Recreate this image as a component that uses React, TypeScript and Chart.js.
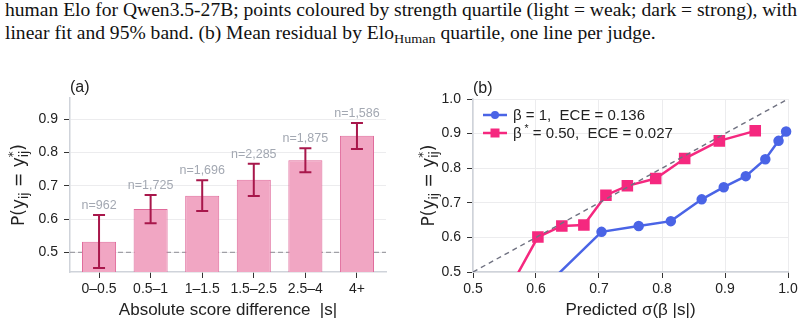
import React, { useEffect, useLayoutEffect, useRef, useState } from 'react';
import { Chart, registerables } from 'chart.js';

Chart.register(...registerables);

const SANS = "'Liberation Sans', Arial, Helvetica, sans-serif";
const MATH = "'DejaVu Sans', sans-serif";
const SERIF = "'Liberation Serif', 'Times New Roman', serif";
const INK = '#222222';

// (a) agreement rate per absolute score-difference bin
const scoreBins = ['0–0.5', '0.5–1', '1–1.5', '1.5–2.5', '2.5–4', '4+'];
const agreement = [0.532, 0.63, 0.67, 0.718, 0.776, 0.85];
const ciLower = [0.453, 0.587, 0.624, 0.669, 0.74, 0.81];
const ciUpper = [0.612, 0.672, 0.716, 0.766, 0.812, 0.888];
const binCounts = ['n=962', 'n=1,725', 'n=1,696', 'n=2,285', 'n=1,875', 'n=1,586'];
const chanceLevel = 0.5;
const yTicksA = [0.5, 0.6, 0.7, 0.8, 0.9];

// (b) reliability curves: predicted vs observed agreement
const predictedBeta1 = [0.565, 0.704, 0.763, 0.814, 0.863, 0.898, 0.933, 0.964, 0.985, 0.997];
const observedBeta1 = [0.37, 0.616, 0.633, 0.647, 0.71, 0.745, 0.777, 0.826, 0.879, 0.906];
const predictedBetaStar = [0.533, 0.603, 0.641, 0.676, 0.711, 0.745, 0.79, 0.836, 0.891, 0.948];
const observedBetaStar = [0.37, 0.601, 0.633, 0.636, 0.722, 0.749, 0.77, 0.828, 0.879, 0.908];
const diagonal = [0.5, 1.0];
const ticksB = [0.5, 0.6, 0.7, 0.8, 0.9, 1.0];

const BLUE = '#4a64e6';
const PINK = '#f5287f';

type Run = { text: string; scale?: number; dy?: number; advance?: boolean };

// draws a label made of runs (sub/superscripts), centred on (cx, cy)
function drawRuns(
  ctx: CanvasRenderingContext2D,
  runs: Run[],
  cx: number,
  cy: number,
  size: number,
  rotate: boolean,
  family: string
) {
  ctx.save();
  ctx.translate(cx, cy);
  if (rotate) ctx.rotate(-Math.PI / 2);
  const widths = runs.map((r) => {
    ctx.font = `${size * (r.scale ?? 1)}px ${family}`;
    return ctx.measureText(r.text).width;
  });
  const total = runs.reduce((s, r, i) => s + (r.advance === false ? 0 : widths[i]), 0);
  let x = -total / 2;
  ctx.fillStyle = INK;
  ctx.textAlign = 'left';
  ctx.textBaseline = 'alphabetic';
  runs.forEach((r, i) => {
    ctx.font = `${size * (r.scale ?? 1)}px ${family}`;
    ctx.fillText(r.text, x, (r.dy ?? 0) * size);
    if (r.advance !== false) x += widths[i];
  });
  ctx.restore();
}

const yTitleRuns: Run[] = [
  { text: 'P(y' },
  { text: 'ij', scale: 0.7, dy: 0.22 },
  { text: ' = y' },
  { text: '*', scale: 0.7, dy: -0.42, advance: false },
  { text: 'ij', scale: 0.7, dy: 0.22 },
  { text: ')' },
];

function yTitlePlugin(x: number, panel: string) {
  return {
    id: 'yTitle',
    afterDraw(chart: any) {
      const { ctx, chartArea } = chart;
      drawRuns(ctx, yTitleRuns, x, (chartArea.top + chartArea.bottom) / 2, 17, true, MATH);
      ctx.save();
      ctx.font = `16px ${SANS}`;
      ctx.fillStyle = INK;
      ctx.textBaseline = 'middle';
      ctx.textAlign = 'left';
      ctx.fillText(panel, chartArea.left, chartArea.top - 10);
      ctx.restore();
    },
  };
}

const errorBarPlugin = {
  id: 'errorBars',
  beforeDatasetsDraw(chart: any) {
    const { ctx, chartArea, scales } = chart;
    const yc = scales.y.getPixelForValue(chanceLevel);
    ctx.save();
    ctx.strokeStyle = '#a0a0a6';
    ctx.lineWidth = 1.2;
    ctx.setLineDash([5, 3]);
    ctx.beginPath();
    ctx.moveTo(chartArea.left, yc);
    ctx.lineTo(chartArea.right, yc);
    ctx.stroke();
    ctx.restore();
  },
  afterDatasetsDraw(chart: any) {
    const { ctx, scales } = chart;
    const { x, y } = scales;
    ctx.save();
    ctx.strokeStyle = '#a8174b';
    ctx.lineWidth = 2;
    scoreBins.forEach((_, i) => {
      const px = x.getPixelForValue(i);
      const top = y.getPixelForValue(ciUpper[i]);
      const bot = y.getPixelForValue(ciLower[i]);
      ctx.beginPath();
      ctx.moveTo(px, top);
      ctx.lineTo(px, bot);
      ctx.moveTo(px - 6, top);
      ctx.lineTo(px + 6, top);
      ctx.moveTo(px - 6, bot);
      ctx.lineTo(px + 6, bot);
      ctx.stroke();
      ctx.font = `12.5px ${SANS}`;
      ctx.fillStyle = '#a3a8b2';
      ctx.textAlign = 'center';
      ctx.textBaseline = 'alphabetic';
      ctx.fillText(binCounts[i], px, top - 6);
    });
    ctx.restore();
  },
};

const legendPlugin = {
  id: 'calibLegend',
  afterDatasetsDraw(chart: any) {
    const { ctx, chartArea } = chart;
    const rows = [
      { color: BLUE, marker: 'circle', runs: [{ text: 'β = 1,  ECE = 0.136' }] as Run[] },
      {
        color: PINK,
        marker: 'rect',
        runs: [{ text: 'β' }, { text: ' *', scale: 0.7, dy: -0.4 }, { text: ' = 0.50,  ECE = 0.027' }] as Run[],
      },
    ];
    ctx.save();
    rows.forEach((row, i) => {
      const y = chartArea.top + 16 + i * 18;
      const x0 = chartArea.left + 10;
      ctx.strokeStyle = row.color;
      ctx.fillStyle = row.color;
      ctx.lineWidth = 2.5;
      ctx.beginPath();
      ctx.moveTo(x0, y);
      ctx.lineTo(x0 + 24, y);
      ctx.stroke();
      ctx.beginPath();
      if (row.marker === 'circle') ctx.arc(x0 + 12, y, 4, 0, Math.PI * 2);
      else ctx.rect(x0 + 12 - 4.5, y - 4.5, 9, 9);
      ctx.fill();
      let tx = x0 + 30;
      ctx.fillStyle = INK;
      ctx.textBaseline = 'alphabetic';
      ctx.textAlign = 'left';
      row.runs.forEach((r) => {
        ctx.font = `${15 * (r.scale ?? 1)}px ${SANS}`;
        ctx.fillText(r.text, tx, y + 5 + (r.dy ?? 0) * 15);
        tx += ctx.measureText(r.text).width;
      });
    });
    ctx.restore();
  },
};

const tickFont = { family: SANS, size: 14 };
const titleFont = { family: SANS, size: 17 };

function PanelA() {
  const ref = useRef<HTMLCanvasElement>(null);
  useEffect(() => {
    const chart = new Chart(ref.current!, {
      type: 'bar',
      data: {
        datasets: [
          {
            data: agreement.map((v, i) => ({ x: i, y: v })),
            backgroundColor: '#f1a6c3',
            borderColor: '#e06a9b',
            borderWidth: 1,
            barPercentage: 0.66,
            categoryPercentage: 1,
          },
        ],
      },
      options: {
        responsive: false,
        animation: false,
        layout: { padding: { top: 23, right: 14, left: 0, bottom: 0 } },
        plugins: { legend: { display: false }, tooltip: { enabled: false } },
        scales: {
          x: {
            type: 'linear',
            offset: false,
            min: -0.563,
            max: 5.563,
            afterFit: (s: any) => {
              s.height = 53;
            },
            afterBuildTicks: (s: any) => {
              s.ticks = scoreBins.map((_, i) => ({ value: i }));
            },
            ticks: {
              callback: (v: any) => scoreBins[v],
              autoSkip: false,
              maxRotation: 0,
              padding: 3,
              color: INK,
              font: tickFont,
            },
            grid: { offset: false, drawOnChartArea: false, tickLength: 6, tickColor: '#333', tickWidth: 1 },
            border: { color: '#cfd3da', width: 1.5 },
            title: {
              display: true,
              text: 'Absolute score difference  |s|',
              color: INK,
              font: titleFont,
              padding: { top: 2, bottom: 4 },
            },
          },
          y: {
            min: 0.441,
            max: 0.963,
            afterFit: (s: any) => {
              s.width = 70;
            },
            afterBuildTicks: (s: any) => {
              s.ticks = yTicksA.map((v) => ({ value: v }));
            },
            ticks: { callback: (v: any) => Number(v).toFixed(1), padding: 6, color: INK, font: tickFont },
            grid: { color: '#ececee', tickLength: 6, tickColor: '#333', tickWidth: 1 },
            border: { color: '#cfd3da', width: 1.5 },
          },
        },
      },
      plugins: [errorBarPlugin, yTitlePlugin(24, '(a)')],
    } as any);
    return () => chart.destroy();
  }, []);
  return <canvas ref={ref} width={400} height={250} style={{ position: 'absolute', left: 0, top: 75 }} />;
}

function PanelB() {
  const ref = useRef<HTMLCanvasElement>(null);
  useEffect(() => {
    const chart = new Chart(ref.current!, {
      type: 'line',
      data: {
        datasets: [
          {
            data: diagonal.map((v) => ({ x: v, y: v })),
            borderColor: '#6f7180',
            borderWidth: 1.4,
            borderDash: [5, 4],
            pointRadius: 0,
          },
          {
            data: predictedBeta1.map((p, i) => ({ x: p, y: observedBeta1[i] })),
            borderColor: BLUE,
            backgroundColor: BLUE,
            borderWidth: 2.5,
            pointRadius: 4,
            pointStyle: 'circle',
            clip: { left: 0, top: 0, right: 6, bottom: 0 },
          },
          {
            data: predictedBetaStar.map((p, i) => ({ x: p, y: observedBetaStar[i] })),
            borderColor: PINK,
            backgroundColor: PINK,
            borderWidth: 2.5,
            pointRadius: 6.4,
            pointStyle: 'rect',
            clip: { left: 0, top: 0, right: 6, bottom: 0 },
          },
        ],
      },
      options: {
        responsive: false,
        animation: false,
        layout: { padding: { top: 24, right: 16, left: 0, bottom: 0 } },
        plugins: { legend: { display: false }, tooltip: { enabled: false } },
        scales: {
          x: {
            type: 'linear',
            min: 0.5,
            max: 1.0,
            afterFit: (s: any) => {
              s.height = 53;
            },
            afterBuildTicks: (s: any) => {
              s.ticks = ticksB.map((v) => ({ value: v }));
            },
            ticks: { callback: (v: any) => Number(v).toFixed(1), padding: 3, color: INK, font: tickFont },
            grid: { color: '#ececee', tickLength: 6, tickColor: '#333', tickWidth: 1 },
            border: { color: '#cfd3da', width: 1.5 },
            title: {
              display: true,
              text: 'Predicted σ(β |s|)',
              color: INK,
              font: titleFont,
              padding: { top: 2, bottom: 4 },
            },
          },
          y: {
            min: 0.5,
            max: 1.0,
            afterFit: (s: any) => {
              s.width = 63;
            },
            afterBuildTicks: (s: any) => {
              s.ticks = ticksB.map((v) => ({ value: v }));
            },
            ticks: { callback: (v: any) => Number(v).toFixed(1), padding: 6, color: INK, font: tickFont },
            grid: { color: '#ececee', tickLength: 6, tickColor: '#333', tickWidth: 1 },
            border: { color: '#cfd3da', width: 1.5 },
          },
        },
      },
      plugins: [legendPlugin, yTitlePlugin(24, '(b)')],
    } as any);
    return () => chart.destroy();
  }, []);
  return <canvas ref={ref} width={394} height={250} style={{ position: 'absolute', left: 410, top: 75 }} />;
}

// Caption block: the first line is stretched to the full text width
function Caption() {
  const firstLine = useRef<HTMLSpanElement>(null);
  const [stretch, setStretch] = useState(1);
  useLayoutEffect(() => {
    const w = firstLine.current?.getBoundingClientRect().width ?? 0;
    if (w > 0) setStretch(792 / w);
  }, []);
  const line: React.CSSProperties = {
    fontFamily: SERIF,
    fontSize: 18,
    lineHeight: '23px',
    color: '#111',
    whiteSpace: 'nowrap',
  };
  return (
    <div
      style={{
        position: 'absolute',
        left: 5,
        top: -1,
        transform: `scaleX(${stretch})`,
        transformOrigin: '0 0',
      }}
    >
      <div style={line}>
        <span ref={firstLine}>
          human Elo for Qwen3.5-27B; points coloured by strength quartile (light = weak; dark = strong), with
        </span>
      </div>
      <div style={line}>
        linear fit and 95% band. (b) Mean residual by Elo
        <span style={{ fontSize: 13, position: 'relative', top: 4 }}>Human</span> quartile, one line per judge.
      </div>
    </div>
  );
}

export default function App() {
  return (
    <div style={{ position: 'absolute', left: 0, top: 0, width: 804, height: 325, background: '#fff', overflow: 'hidden' }}>
      <Caption />
      <PanelA />
      <PanelB />
    </div>
  );
}
